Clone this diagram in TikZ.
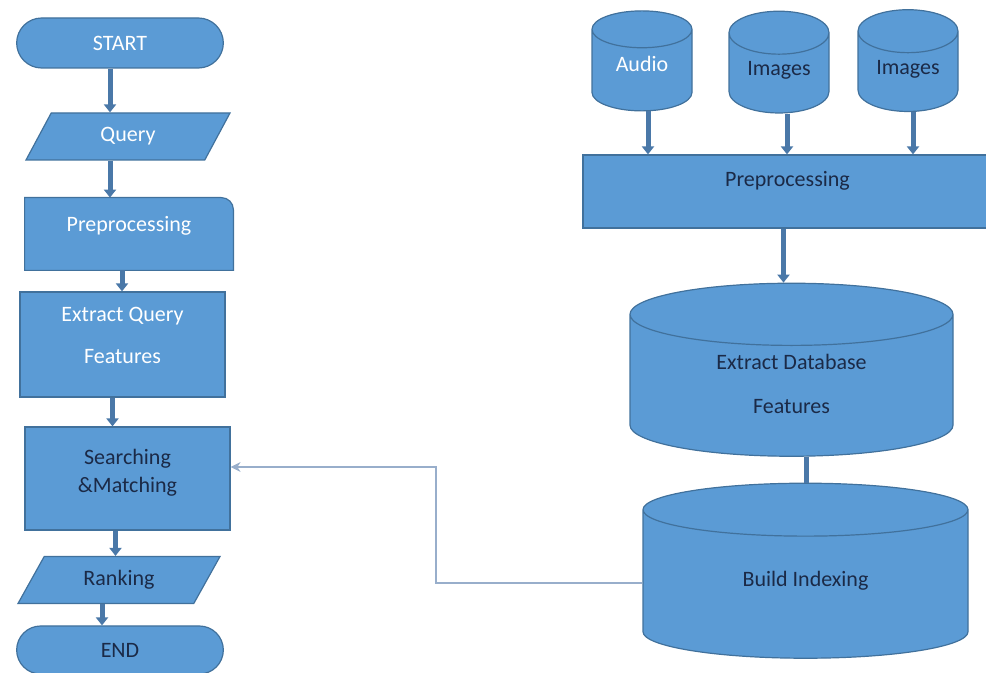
\documentclass[tikz,border=0pt]{standalone}
\usepackage{fontspec}
\setmainfont{Carlito}
\usetikzlibrary{shapes.geometric,shapes.misc,arrows.meta}
\definecolor{boxfill}{HTML}{5B9BD5}
\definecolor{boxline}{HTML}{41719C}
\definecolor{arrowc}{HTML}{4A78A8}
\definecolor{fbline}{HTML}{98AECB}
\definecolor{darktext}{HTML}{1B2A47}
\tikzset{
  box/.style={rectangle,fill=boxfill,draw=boxline,line width=0.6pt,align=center},
  term/.style={rounded rectangle,fill=boxfill,draw=boxline,line width=0.6pt},
  io/.style={trapezium,trapezium left angle=51,trapezium right angle=129,trapezium stretches body,
    fill=boxfill,draw=boxline,line width=0.6pt},
  db/.style={cylinder,shape border rotate=90,fill=boxfill,draw=boxline,line width=0.6pt,align=center},
  flow/.style={draw=arrowc,line width=2.5pt,-{Triangle[width=6pt,length=4pt]}},
  link/.style={draw=arrowc,line width=2.5pt},
  fb/.style={draw=fbline,line width=0.8pt,-{Stealth[width=5pt,length=5pt]}}
}
\begin{document}
\begin{tikzpicture}[x=0.5pt,y=-0.5pt,font=\fontsize{11}{13}\selectfont]
\useasboundingbox (0,0) rectangle (986,673);
% query side
\node[term,minimum width=110pt,minimum height=25pt,text=white] (start) at (120,43) {START};
\node[io,minimum width=102pt,minimum height=23.5pt,text=white] (query) at (128,136.5) {Query};
\node[minimum width=104pt,minimum height=36pt] (prel) at (129,234) {};
\filldraw[fill=boxfill,draw=boxline,line width=0.6pt] (prel.south west) -- (prel.north west)
  -- ([xshift=-6pt]prel.north east) arc[start angle=90,end angle=0,radius=6pt] -- (prel.south east) -- cycle;
\node[text=white] at ([yshift=4pt]prel.center) {Preprocessing};
\node[box,minimum width=102.5pt,minimum height=52.5pt,text=white] (exq) at (122.5,344.5)
  {Extract Query\\[8pt]Features\rule[-9pt]{0pt}{9pt}};
\node[box,minimum width=102.5pt,minimum height=51.5pt,text=darktext] (sm) at (127.5,478.5)
  {Searching\\[1pt]\&Matching\rule[-8pt]{0pt}{8pt}};
\node[io,minimum width=101pt,minimum height=23.5pt,text=darktext] (rank) at (119,580) {Ranking};
\node[term,minimum width=110pt,minimum height=24pt,text=darktext] (end) at (120,650) {END};
% database side
\node[db,minimum width=50pt,minimum height=50pt,aspect=0.56,text=white] (audio) at (642,75)
  {\raisebox{11pt}{Audio}};
\node[db,minimum width=50pt,minimum height=50.5pt,aspect=0.56,text=darktext] (img1) at (779,78.5)
  {\raisebox{10pt}{Images}};
\node[db,minimum width=50pt,minimum height=49pt,aspect=0.56,text=darktext] (img2) at (908,77)
  {\raisebox{10pt}{Images}};
\node[box,minimum width=204.5pt,minimum height=36.5pt,text=darktext] (prer) at (787.5,191.5)
  {\raisebox{13pt}{Preprocessing}};
\node[db,minimum width=161.5pt,minimum height=86.5pt,aspect=0.38,text=darktext] (exdb) at (791.5,390)
  {\raisebox{6pt}{Extract Database}\\[8pt]\raisebox{6pt}{Features}};
\node[db,minimum width=162.5pt,minimum height=87.5pt,aspect=0.38,text=darktext] (bidx) at (805.5,588)
  {\raisebox{9pt}{Build Indexing}};
% connectors
\draw[flow] ([xshift=-5pt]start.south) -- ([xshift=-5pt]start.south |- query.north);
\draw[flow] ([xshift=-9pt]query.south) -- ([xshift=-9pt]query.south |- prel.north);
\draw[flow] ([xshift=-3.5pt]prel.south) -- ([xshift=-3.5pt]prel.south |- exq.north);
\draw[flow] ([xshift=-5pt]exq.south) -- ([xshift=-5pt]exq.south |- sm.north);
\draw[flow] ([xshift=-6pt]sm.south) -- ([xshift=-6pt]sm.south |- rank.north);
\draw[flow] ([xshift=-8.5pt]rank.south) -- ([xshift=-8.5pt]rank.south |- end.north);
\draw[flow] ([xshift=3pt]audio.south) -- ([xshift=3pt]audio.south |- prer.north);
\draw[flow] ([xshift=4pt]img1.south) -- ([xshift=4pt]img1.south |- prer.north);
\draw[flow] ([xshift=2.5pt]img2.south) -- ([xshift=2.5pt]img2.south |- prer.north);
\draw[flow] ([xshift=-2pt]prer.south) -- ([xshift=-2pt]prer.south |- exdb.north);
\draw[link] ([xshift=7.5pt]exdb.south) -- ([xshift=7.5pt]exdb.south |- bidx.north);
\coordinate (bend) at (436,467);
\draw[fb] ([yshift=2.5pt]bidx.west) -| (bend) -- (bend -| sm.east);
\end{tikzpicture}
\end{document}
